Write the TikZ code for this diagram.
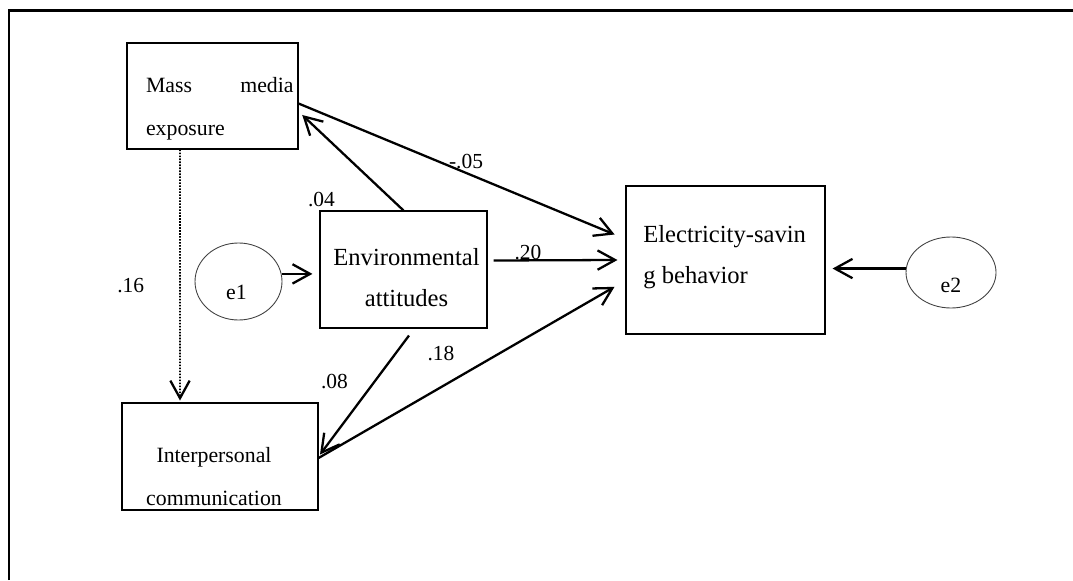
\documentclass[tikz,border=0pt]{standalone}
\usepackage{fontspec}
\setmainfont{Liberation Serif}
\usetikzlibrary{arrows.meta,shapes.geometric}

\begin{document}
\begin{tikzpicture}[
  box/.style={draw, line width=0.6pt, inner sep=0pt},
  err/.style={draw=black!75, line width=0.5pt, ellipse, inner sep=0pt},
  effect/.style={line width=1.3pt, -{Straight Barb[length=10pt,width=11pt]}},
  coef/.style={inner sep=0pt, anchor=base, font=\fontsize{12.2}{14}\selectfont},
  small/.style={font=\fontsize{12.4}{24.2}\selectfont, inner sep=0pt},
  big/.style={font=\fontsize{14}{23.4}\selectfont, inner sep=0pt}
]
\useasboundingbox (0,0) rectangle (21.46,11.6);
\draw[line width=1.3pt] (0.18,0) -- (0.18,11.39) -- (21.46,11.39);

% variables
\node[box, minimum width=3.42cm, minimum height=2.12cm] (mme) at (4.25,9.68) {};
\node[box, minimum width=3.34cm, minimum height=2.34cm] (env) at (8.07,6.21) {};
\node[box, minimum width=3.98cm, minimum height=2.96cm] (esb) at (14.51,6.40) {};
\node[box, minimum width=3.92cm, minimum height=2.14cm] (ipc) at (4.40,2.47) {};
\node[err, minimum width=1.74cm, minimum height=1.54cm] (e1) at (4.77,5.97) {};
\node[err, minimum width=1.80cm, minimum height=1.42cm] (e2) at (19.02,6.15) {};

% texts (base = last line here, first line with text width)
\node[small, anchor=base west, text width=2.95cm, align=left] (mmetxt) at (2.914,9.746) {Mass\hfill media\\exposure};
\node[big, anchor=base, align=center] (envtxt) at (8.13,5.466) {Environmental\\attitudes};
\node[big, anchor=base west, align=left] (esbtxt) at (12.86,5.934) {Electricity-savin\\g behavior};
\node[small, anchor=base, align=center] (ipctxt) at (4.28,1.50) {Interpersonal\\communication};
\node[coef, font=\fontsize{12.4}{14}\selectfont] (e1txt) at (4.73,5.62) {e1};
\node[coef, font=\fontsize{12.4}{14}\selectfont] (e2txt) at (19.02,5.76) {e2};

% coefficients
\node[coef] (c04) at (6.43,7.466) {.04};
\node[coef] (c05) at (9.32,8.234) {-.05};
\node[coef] (c20) at (10.56,6.414) {.20};
\node[coef] (c18) at (8.82,4.40) {.18};
\node[coef] (c08) at (6.69,3.834) {.08};
\node[coef] (c16) at (2.614,5.754) {.16};

% paths
\draw[effect, shorten >=2.9pt] (env.north) -- ([yshift=-0.31cm]mme.east);
\draw[effect, shorten >=6.7pt] ([yshift=-0.15cm]mme.east) -- ([yshift=0.42cm]esb.west);
\draw[effect] ([xshift=0.12cm,yshift=0.18cm]env.east) -- ([xshift=-0.16cm]esb.west);
\draw[effect, shorten >=7.2pt] ([yshift=-0.03cm]ipc.east) -- ([yshift=-0.41cm]esb.west);
\draw[effect, shorten >=1.4pt] ([xshift=0.11cm,yshift=-0.14cm]env.south) -- (ipc.east);
\draw[effect, line width=1.1pt, dash pattern=on 0.9pt off 0.8pt,
  -{Straight Barb[length=10pt,width=11pt,line width=1.3pt]}, shorten >=1.1pt]
  ([xshift=-0.65cm]mme.south) -- ([xshift=-0.8cm]ipc.north);
\draw[effect, shorten >=4pt] (e1.10) -- (env.west |- e1.10);
\draw[effect, shorten >=4pt] (e2.175) -- (esb.east |- e2.175);
\end{tikzpicture}
\end{document}
